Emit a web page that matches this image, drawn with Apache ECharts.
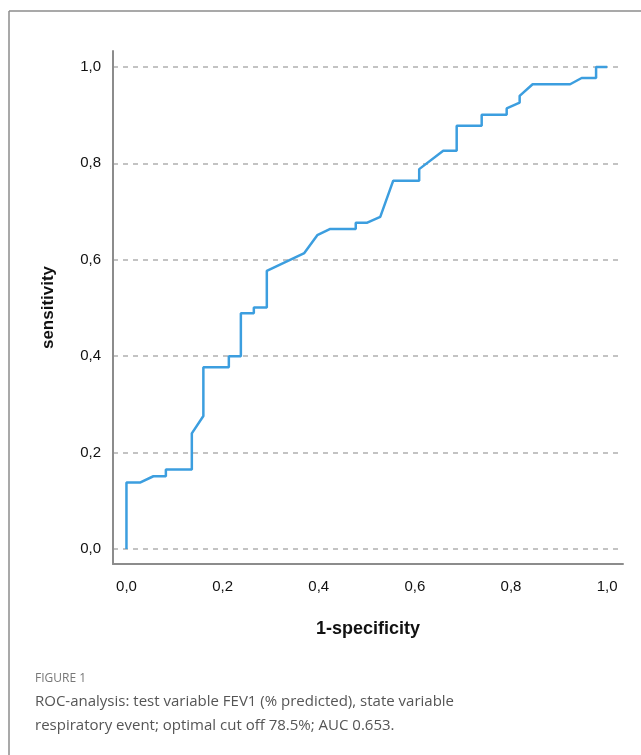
<!DOCTYPE html>
<html>
<head>
<meta charset="utf-8">
<script src="https://cdn.jsdelivr.net/npm/echarts@6/dist/echarts.min.js"></script>
<style>
  html, body { margin: 0; padding: 0; background: #fff; }
  #chart { width: 641px; height: 755px; }
</style>
</head>
<body>
<div id="chart"></div>
<script>
// ROC curve: 1-specificity vs sensitivity
const fpr = [0, 0, 0.028, 0.056, 0.082, 0.082, 0.136, 0.136, 0.16, 0.16,
    0.213, 0.213, 0.238, 0.238, 0.265, 0.265, 0.292, 0.292, 0.37, 0.37,
    0.397, 0.397, 0.424, 0.477, 0.477, 0.501, 0.528, 0.555, 0.609, 0.609,
    0.659, 0.687, 0.687, 0.739, 0.739, 0.791, 0.791, 0.818, 0.818, 0.845,
    0.923, 0.947, 0.977, 0.977, 1.0];
const tpr = [0, 0.138, 0.138, 0.151, 0.151, 0.165, 0.165, 0.24, 0.276, 0.377,
    0.377, 0.40, 0.40, 0.489, 0.489, 0.501, 0.501, 0.577, 0.614, 0.614,
    0.651, 0.651, 0.664, 0.664, 0.677, 0.677, 0.689, 0.764, 0.764, 0.788,
    0.826, 0.826, 0.878, 0.878, 0.901, 0.901, 0.914, 0.926, 0.94, 0.964,
    0.964, 0.977, 0.977, 1.0, 1.0];
const tickValues = [0, 0.2, 0.4, 0.6, 0.8, 1.0];

const xName = '1-specificity';
const yName = 'sensitivity';
const figLabel = 'FIGURE 1';
const captionLines = [
    'ROC-analysis: test variable FEV1 (% predicted), state variable',
    'respiratory event; optimal cut off 78.5%; AUC 0.653.'
];

const chart = echarts.init(document.getElementById('chart'));

const fmt = v => v.toFixed(1).replace('.', ',');

function axisOf(name, gap) {
    return {
        type: 'value',
        min: -0.03, max: 1.033,
        name: name,
        nameLocation: 'middle',
        nameGap: gap,
        nameTextStyle: { fontFamily: 'Liberation Sans', fontWeight: 'bold', fontSize: 18, color: '#111' },
        axisLine: { show: true, onZero: false, lineStyle: { color: '#8c8c8c', width: 2 } },
        axisTick: { show: false, customValues: tickValues },
        axisLabel: {
            customValues: tickValues,
            formatter: fmt,
            fontFamily: 'Liberation Sans', fontSize: 15, color: '#111'
        },
        splitLine: { show: true, lineStyle: { color: '#b0b0b0', type: [5, 5], width: 1.5 } }
    };
}

const xAxis = axisOf(xName, 56);
xAxis.min = -0.028;
xAxis.axisLabel.margin = 15;
xAxis.splitLine.show = false;

const yAxis = axisOf(yName, 56);
yAxis.min = -0.031;
yAxis.axisLabel.margin = 12;
yAxis.nameTextStyle.fontSize = 17;

chart.setOption({
    animation: false,
    grid: { left: 113, right: 18, top: 51, bottom: 191, containLabel: false },
    xAxis: xAxis,
    yAxis: yAxis,
    series: [{
        type: 'line',
        data: fpr.map((x, i) => [x, tpr[i]]),
        showSymbol: false,
        lineStyle: { color: '#3c9edf', width: 2.5 },
        z: 5
    }],
    graphic: [
        { type: 'line', shape: { x1: 9, y1: 11, x2: 641, y2: 11 }, style: { stroke: '#8c8c8c', lineWidth: 1.5 } },
        { type: 'line', shape: { x1: 9, y1: 11, x2: 9, y2: 755 }, style: { stroke: '#8c8c8c', lineWidth: 1.5 } },
        { type: 'text', left: 35, top: 673, style: { text: figLabel, fontFamily: 'Open Sans', fontSize: 12, fill: '#777' } },
        { type: 'text', left: 35, top: 694, style: { text: captionLines[0], fontFamily: 'Open Sans', fontSize: 15, fill: '#555' } },
        { type: 'text', left: 35, top: 718, style: { text: captionLines[1], fontFamily: 'Open Sans', fontSize: 15, fill: '#555' } }
    ]
});
</script>
</body>
</html>
